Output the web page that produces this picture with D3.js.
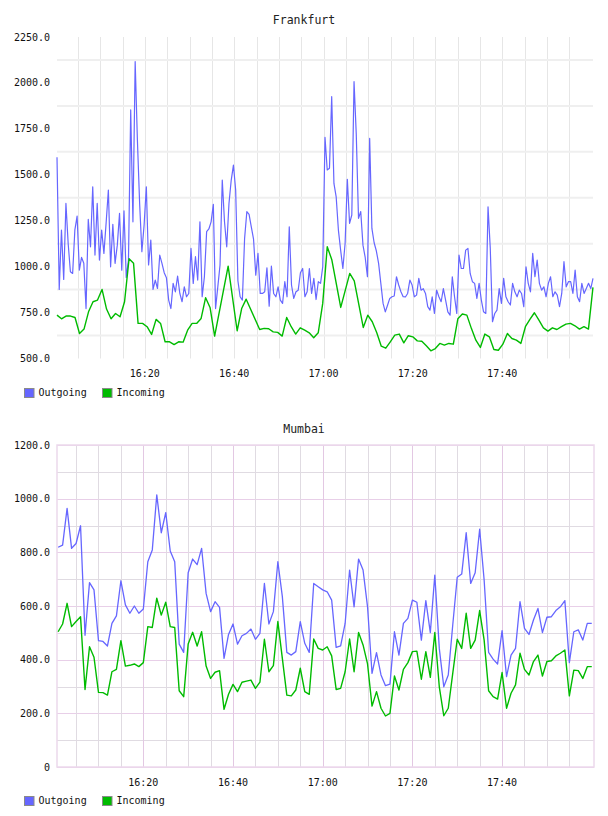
<!DOCTYPE html>
<html>
<head>
<meta charset="utf-8">
<script src="https://cdn.jsdelivr.net/npm/d3@7"></script>
<style>
	body { margin: 0; background: #fff; }
	text { font-family: "DejaVu Sans Mono", "Liberation Mono", monospace; fill: #111; }
	.title { font-size: 11.5px; fill: #222; }
	.tick-label { font-size: 10px; }
	.legend-label { font-size: 10px; }
</style>
</head>
<body>
<svg id="chart" width="608" height="816"></svg>
<script>

// ---- data ----
var seriesNames = ["Outgoing", "Incoming"];
var seriesColors = ["#6666ff", "#00bb00"];
var xTickLabels = ["16:20", "16:40", "17:00", "17:20", "17:40"];

// Frankfurt: outgoing sampled every 30 s, incoming about once a minute
var frankfurtStart = "16:00:20";
var frankfurtEnd = "18:00:20";
var frankfurtOutgoingStepSec = 30;
var frankfurtIncomingStepSec = 60.5;
var frankfurtYTicks = [500, 750, 1000, 1250, 1500, 1750, 2000, 2250];

var frankfurtOutgoing = [
	1595, 876, 1199, 930, 1344, 1126, 972, 963, 1200, 1275,
	981, 1050, 1018, 772, 1257, 1108, 1435, 1063, 1344, 1036,
	1199, 1072, 1239, 1417, 999, 1230, 1018, 1117, 1290, 981,
	1304, 941, 1036, 1853, 1244, 2116, 1689, 1344, 1081, 1226,
	1435, 1009, 1145, 876, 927, 881, 1063, 1018, 967, 940,
	818, 772, 909, 863, 949, 854, 809, 890, 836, 854,
	1099, 909, 1054, 927, 1244, 836, 945, 1190, 1205, 1244,
	1339, 772, 890, 1009, 1471, 1244, 1108, 1344, 1470, 1553,
	1417, 923, 836, 818, 1154, 1299, 1284, 1217, 1150, 954,
	1072, 854, 854, 863, 994, 785, 1003, 854, 836, 890,
	818, 800, 918, 836, 1217, 900, 827, 863, 872, 967,
	990, 836, 863, 990, 854, 936, 821, 918, 909, 1000,
	1704, 1526, 1535, 1925, 1453, 1380, 1199, 1090, 990, 1126,
	1475, 1235, 1281, 2007, 1720, 1263, 1300, 1117, 1050, 945,
	1698, 1208, 1130, 1085, 1018, 909, 800, 754, 790, 827,
	836, 840, 945, 900, 863, 836, 835, 854, 927, 900,
	836, 845, 936, 872, 880, 854, 782, 763, 836, 745,
	872, 836, 809, 880, 818, 754, 736, 945, 836, 745,
	1063, 990, 990, 1090, 1099, 963, 918, 909, 827, 909,
	818, 754, 745, 1326, 1100, 700, 745, 763, 881, 800,
	936, 836, 809, 791, 909, 863, 836, 872, 854, 782,
	999, 909, 863, 1072, 945, 1036, 909, 872, 890, 836,
	909, 945, 836, 863, 845, 782, 854, 1027, 890, 918,
	918, 854, 981, 836, 809, 909, 854, 881, 909, 881,
	936
];

// null = no sample at that slot (line joins the neighbours)
var frankfurtIncoming = [
	736, 716, 731, 731, 723, 636, 660, 754, 809, 818,
	876, 769, 716, 745, 727, 809, 1043, 1018, 691, 691,
	673, 631, 713, 691, 591, 591, 576, 591, 589, 654,
	691, 691, 718, 831, 776, 622, null, null, 1003, null,
	651, 772, 823, null, null, 658, 664, 662, 645, 642,
	622, 723, 673, 633, 667, 654, 640, 613, 640, 800,
	1108, 1039, null, 778, null, 963, 923, null, 669, 736,
	700, 640, 567, 556, 591, 627, 633, 585, 624, 618,
	596, 594, 569, 542, 554, 582, 573, 582, 578, 716,
	742, 736, 664, 600, 560, 633, 618, 549, 545, 578,
	636, 609, 600, 582, 673, 713, 749, 709, 667, 649,
	667, 658, 673, 687, 691, 678, 660, 673, 660, 887
];

// Mumbai: one sample a minute
var mumbaiStart = "16:01:00";
var mumbaiDomain = ["16:00:45", "18:00:30"];
var mumbaiStepSec = 60;
var mumbaiYTicks = [0, 200, 400, 600, 800, 1000, 1200];

var mumbaiOutgoing = [
	819, 827, 964, 815, 833, 899, 491, 687, 660, 471,
	468, 451, 535, 563, 694, 604, 573, 600, 573, 589,
	765, 809, 1014, 873, 948, 805, 765, 458, 427, 724,
	775, 754, 815, 647, 579, 616, 595, 405, 494, 533,
	458, 489, 498, 514, 476, 498, 684, 533, 579, 765,
	635, 427, 417, 430, 542, 461, 427, 684, 672, 660,
	653, 622, 446, 451, 535, 734, 597, 775, 734, 597,
	349, 426, 343, 303, 309, 504, 417, 535, 554, 622,
	614, 473, 620, 501, 715, 442, 299, 343, 529, 707,
	719, 873, 684, 724, 886, 697, 427, 402, 384, 508,
	337, 417, 442, 616, 517, 494, 548, 591, 501, 558,
	560, 583, 597, 620, 389, 504, 511, 473, 535, 535
];

var mumbaiIncoming = [
	504, 533, 610, 523, 542, 560, 289, 448, 409, 278,
	277, 268, 355, 364, 471, 376, 379, 384, 374, 389,
	523, 520, 629, 566, 614, 523, 520, 284, 262, 458,
	502, 451, 504, 376, 330, 353, 359, 215, 271, 308,
	281, 316, 320, 324, 293, 316, 476, 355, 378, 542,
	405, 268, 265, 287, 368, 281, 271, 477, 442, 436,
	448, 414, 289, 293, 355, 477, 355, 501, 455, 384,
	227, 281, 219, 190, 200, 339, 287, 364, 389, 430,
	432, 327, 430, 334, 501, 299, 191, 219, 349, 476,
	442, 573, 442, 473, 583, 473, 284, 262, 253, 352,
	219, 275, 306, 424, 364, 343, 393, 417, 339, 393,
	396, 414, 424, 436, 265, 361, 359, 330, 374, 374
];

// ---- drawing ----
var parseTime = d3.timeParse("%H:%M:%S");
var parseHM = d3.timeParse("%H:%M");
var svg = d3.select("#chart");

function toSeries(values, start, stepSec) {
	var t0 = parseTime(start).getTime();
	return values.map(function(v, i) {
		return { t: new Date(t0 + i * stepSec * 1000), v: v };
	}).filter(function(d) { return d.v !== null; });
}

function fmtY(v) {
	return v === 0 ? "0" : d3.format(".1f")(v);
}

function drawPanel(cfg) {
	var g = svg.append("g");
	var x = d3.scaleTime()
		.domain(cfg.domain)
		.range([cfg.left, cfg.right]);
	var y = d3.scaleLinear()
		.domain([cfg.yTicks[0], cfg.yTicks[cfg.yTicks.length - 1]])
		.range([cfg.bottom, cfg.top]);

	g.append("text")
		.attr("class", "title")
		.attr("x", 304)
		.attr("y", cfg.titleY)
		.attr("text-anchor", "middle")
		.text(cfg.title);

	var grid = g.append("g").attr("class", "grid");
	var fiveMin = d3.timeMinute.every(5).range(cfg.domain[0], parseHM("18:00"));

	if (cfg.style === "plain") {
		// vertical lines every 5 minutes, horizontal lines half way between labels
		grid.selectAll("line.v").data(fiveMin).enter().append("line")
			.attr("class", "v")
			.attr("x1", function(d) { return Math.round(x(d)) + 0.5; })
			.attr("x2", function(d) { return Math.round(x(d)) + 0.5; })
			.attr("y1", cfg.top)
			.attr("y2", cfg.bottom)
			.attr("stroke", "#e6e6e6")
			.attr("stroke-width", 1);
		var mids = d3.pairs(cfg.yTicks, function(a, b) { return (a + b) / 2; });
		grid.selectAll("line.h").data(mids).enter().append("line")
			.attr("class", "h")
			.attr("x1", cfg.left)
			.attr("x2", cfg.right)
			.attr("y1", function(d) { return y(d); })
			.attr("y2", function(d) { return y(d); })
			.attr("stroke", "#efefef")
			.attr("stroke-width", 2);
	} else {
		var hLines = y.ticks(12);
		grid.selectAll("line.h").data(hLines).enter().append("line")
			.attr("class", "h")
			.attr("x1", cfg.left)
			.attr("x2", cfg.right)
			.attr("y1", function(d) { return Math.round(y(d)) + 0.5; })
			.attr("y2", function(d) { return Math.round(y(d)) + 0.5; })
			.attr("stroke", function(d) { return cfg.yTicks.indexOf(d) >= 0 ? "#e8cfe8" : "#e0dbe2"; })
			.attr("stroke-width", 1);
		grid.selectAll("line.v").data(fiveMin).enter().append("line")
			.attr("class", "v")
			.attr("x1", function(d) { return Math.round(x(d)) + 0.5; })
			.attr("x2", function(d) { return Math.round(x(d)) + 0.5; })
			.attr("y1", cfg.top)
			.attr("y2", cfg.bottom)
			.attr("stroke", function(d) { return d.getMinutes() % 20 === 0 ? "#e3c8e3" : "#e0dbe2"; })
			.attr("stroke-width", 1);
		grid.append("rect")
			.attr("x", cfg.left)
			.attr("y", cfg.top)
			.attr("width", cfg.right - cfg.left)
			.attr("height", cfg.bottom - cfg.top)
			.attr("fill", "none")
			.attr("stroke", "#ecd9ec")
			.attr("stroke-width", 1.5);
	}

	// y labels
	g.selectAll("text.ylab").data(cfg.yTicks).enter().append("text")
		.attr("class", "tick-label ylab")
		.attr("x", cfg.left - 7)
		.attr("y", function(d) { return y(d); })
		.attr("dy", "0.35em")
		.attr("text-anchor", "end")
		.text(fmtY);

	// x labels
	g.selectAll("text.xlab").data(xTickLabels).enter().append("text")
		.attr("class", "tick-label xlab")
		.attr("x", function(d) { return x(parseHM(d)); })
		.attr("y", cfg.bottom + 15)
		.attr("dy", "0.35em")
		.attr("text-anchor", "middle")
		.text(function(d) { return d; });

	var line = d3.line()
		.x(function(d) { return x(d.t); })
		.y(function(d) { return y(d.v); });

	cfg.series.forEach(function(s, i) {
		g.append("path")
			.datum(s)
			.attr("d", line)
			.attr("fill", "none")
			.attr("stroke", seriesColors[i])
			.attr("stroke-width", cfg.widths[i])
			.attr("stroke-linejoin", "round");
	});

	// legend
	var lg = g.append("g").attr("transform", "translate(0," + cfg.legendY + ")");
	var offsets = [24, 102];
	seriesNames.forEach(function(name, i) {
		lg.append("rect")
			.attr("x", offsets[i] + 0.5)
			.attr("y", 0.5)
			.attr("width", 9.5)
			.attr("height", 9)
			.attr("fill", seriesColors[i])
			.attr("stroke", "#8a8a8a")
			.attr("stroke-width", 1);
		lg.append("text")
			.attr("class", "legend-label")
			.attr("x", offsets[i] + 14.5)
			.attr("y", 8)
			.text(name);
	});
}

drawPanel({
	title: "Frankfurt",
	titleY: 24,
	style: "plain",
	left: 57, right: 593, top: 37, bottom: 358.5,
	domain: [parseTime(frankfurtStart), parseTime(frankfurtEnd)],
	yTicks: frankfurtYTicks,
	legendY: 388,
	widths: [1.2, 1.4],
	series: [
		toSeries(frankfurtOutgoing, frankfurtStart, frankfurtOutgoingStepSec),
		toSeries(frankfurtIncoming, frankfurtStart, frankfurtIncomingStepSec)
	]
});

drawPanel({
	title: "Mumbai",
	titleY: 433,
	style: "bordered",
	left: 57, right: 594, top: 445, bottom: 767,
	domain: mumbaiDomain.map(function(s) { return parseTime(s); }),
	yTicks: mumbaiYTicks,
	legendY: 796,
	widths: [1.3, 1.4],
	series: [
		toSeries(mumbaiOutgoing, mumbaiStart, mumbaiStepSec),
		toSeries(mumbaiIncoming, mumbaiStart, mumbaiStepSec)
	]
});
</script>
</body>
</html>
